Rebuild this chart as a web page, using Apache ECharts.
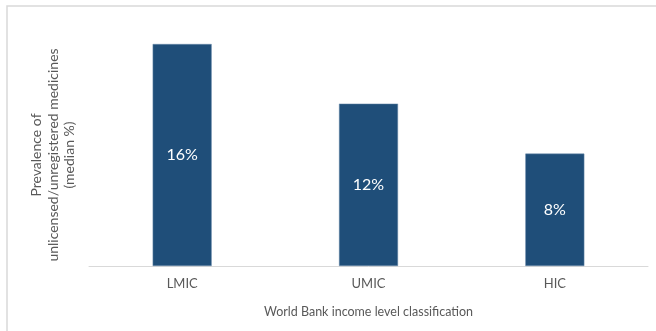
<!DOCTYPE html>
<html>
<head>
<meta charset="utf-8">
<script src="https://cdn.jsdelivr.net/npm/echarts@6/dist/echarts.min.js"></script>
<style>
html,body{margin:0;padding:0;background:#fff;}
#chart{width:656px;height:331px;}
</style>
</head>
<body>
<div id="chart"></div>
<script>
const categories = ['LMIC', 'UMIC', 'HIC'];
const values = [16, 11.7, 8.1];
const xAxisTitle = 'World Bank income level classification';
const yAxisTitle = 'Prevalence of\nunlicensed/unregistered medicines\n(median %)';

const chart = echarts.init(document.getElementById('chart'), null, {renderer: 'canvas'});
const FONT = 'Lato, "Open Sans", sans-serif';
chart.setOption({
  animation: false,
  backgroundColor: '#ffffff',
  graphic: [{
    type: 'rect',
    shape: {x: 7, y: 6, width: 700, height: 400},
    style: {fill: 'none', stroke: '#d9d9d9', lineWidth: 1.5},
    silent: true, z: -1
  }],
  grid: {left: 89, right: 8, top: 44, bottom: 65},
  xAxis: {
    type: 'category',
    data: categories,
    axisLine: {show: true, lineStyle: {color: '#d9d9d9', width: 1}},
    axisTick: {show: false},
    axisLabel: {color: '#595959', fontSize: 13, fontFamily: FONT, margin: 11},
    name: xAxisTitle,
    nameLocation: 'middle',
    nameGap: 39,
    nameTextStyle: {color: '#595959', fontSize: 12.5, fontFamily: FONT}
  },
  yAxis: {
    type: 'value',
    min: 0,
    max: 16,
    axisLine: {show: false},
    axisTick: {show: false},
    axisLabel: {show: false},
    splitLine: {show: false},
    name: yAxisTitle,
    nameLocation: 'middle',
    nameRotate: 90,
    nameGap: 11,
    nameTextStyle: {color: '#595959', fontSize: 14, fontFamily: FONT, lineHeight: 16.5, align: 'center'}
  },
  series: [{
    type: 'bar',
    data: values,
    barWidth: 59,
    itemStyle: {color: '#1f4e79', borderColor: '#6b8bab', borderWidth: 0.5},
    label: {
      show: true,
      position: 'inside',
      color: '#ffffff',
      fontSize: 16,
      fontFamily: FONT,
      formatter: p => Math.round(p.value) + '%'
    }
  }]
});
</script>
</body>
</html>
